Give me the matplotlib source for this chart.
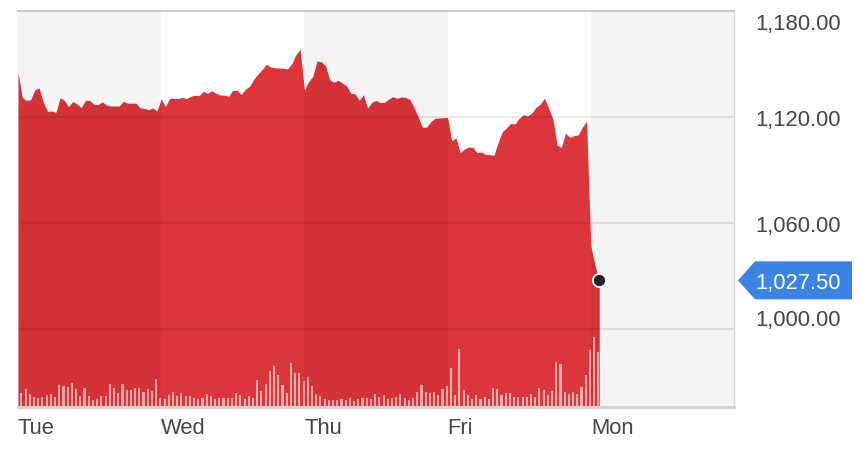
import matplotlib
matplotlib.use('Agg')
import matplotlib.pyplot as plt
import matplotlib.transforms as mtransforms
from matplotlib.patches import Polygon
import numpy as np

plt.rcParams['font.family'] = ['Liberation Sans', 'DejaVu Sans']

# ---------------- data ----------------
days = ['Tue', 'Wed', 'Thu', 'Fri', 'Mon']
steps_per_day = 34

price = [
    1145.3, 1131.1, 1129.4, 1129.8, 1135.4, 1136.4, 1128.3, 1123.2, 1123.4, 1122.6,
    1130.9, 1129.4, 1125.8, 1128.7, 1127.4, 1125.3, 1129.4, 1129.4, 1127.2, 1127.0,
    1128.5, 1126.8, 1126.2, 1126.2, 1126.2, 1128.9, 1127.8, 1127.8, 1127.8, 1125.1,
    1124.9, 1124.1, 1125.1, 1123.4, 1130.3, 1125.8, 1130.6, 1130.6, 1130.4, 1131.1,
    1130.4, 1131.7, 1132.3, 1132.1, 1134.5, 1133.4, 1134.9, 1133.4, 1132.4, 1132.4,
    1131.7, 1135.1, 1135.1, 1132.8, 1135.7, 1137.4, 1141.5, 1144.3, 1147.0, 1149.8,
    1148.3, 1147.9, 1147.7, 1147.6, 1147.2, 1150.2, 1155.3, 1158.3, 1135.3, 1140.0,
    1143.0, 1151.7, 1151.3, 1149.0, 1141.1, 1139.6, 1140.8, 1139.2, 1137.7, 1133.4,
    1133.2, 1129.4, 1132.6, 1124.9, 1128.3, 1129.4, 1128.1, 1128.3, 1130.2, 1131.5,
    1130.6, 1131.3, 1131.1, 1130.0, 1125.5, 1120.2, 1114.2, 1114.2, 1117.3, 1119.3,
    1119.4, 1119.6, 1119.7, 1106.6, 1108.1, 1099.8, 1101.9, 1103.0, 1102.8, 1099.8,
    1100.2, 1098.7, 1098.7, 1098.3, 1105.7, 1111.7, 1113.9, 1116.4, 1116.0, 1119.3,
    1121.3, 1120.6, 1122.3, 1125.5, 1127.2, 1130.7, 1124.9, 1118.9, 1104.1, 1102.8,
    1110.8, 1108.5, 1109.4, 1109.8, 1114.2, 1117.6, 1047.1, 1036.0, 1027.5,
]

volume = [
    43, 55, 39, 31, 27, 31, 37, 40, 31, 67, 62, 59, 72, 54, 34, 57, 33, 22, 25, 33,
    34, 70, 58, 43, 68, 52, 51, 56, 57, 44, 55, 49, 85,
    27, 24, 37, 46, 32, 42, 34, 32, 27, 23, 28, 40, 34, 25, 27, 27, 27, 27, 42, 37,
    25, 33, 28, 82, 48, 70, 109, 124, 96, 66, 43, 133, 103, 103, 78, 90,
    62, 38, 33, 23, 20, 20, 21, 25, 20, 28, 17, 23, 26, 26, 24, 40, 29, 36, 25, 26,
    31, 39, 28, 20, 26, 44, 67, 44, 41, 44, 36, 55, 63, 116, 37, 175, 52, 35, 25, 37,
    23, 31, 25, 56, 53, 35, 41, 43, 31, 30, 29, 29, 38, 29, 58, 51, 37, 47, 134, 130,
    44, 39, 45, 38, 59, 95, 170, 209, 166,
]
volume_scale = 1188  # volume value that would fill the whole plot height

yticks = [1000, 1060, 1120, 1180]
ytick_labels = ['1,000.00', '1,060.00', '1,120.00', '1,180.00']
last_label = '1,027.50'

# ---------------- layout ----------------
W, H = 866, 460
DPI = 100
fig = plt.figure(figsize=(W / DPI, H / DPI), dpi=DPI)
L, R, T, B = 18, 734, 12, 408
ax = fig.add_axes([L / W, (H - B) / H, (R - L) / W, (B - T) / H])

text_color = '#41474f'
red = '#dd363a'
FS = 15.8

x = np.arange(len(price))
ymin, ymax = 955.8, 1180
ax.set_xlim(0, steps_per_day * len(days))
ax.set_ylim(ymin, ymax)

ax.fill_between(x, price, ymin - 50, color=red, lw=0, zorder=2)

# volume bars (x in data, y in axes fraction)
vx = np.arange(1, len(volume) + 1) - 0.2
ax.bar(vx, np.array(volume) / volume_scale, width=0.5, bottom=0,
       color='white', alpha=0.6, lw=0, zorder=2.5,
       transform=ax.get_xaxis_transform())

# horizontal grid lines
for t in yticks[:-1]:
    ax.axhline(t, color='black', alpha=0.085, lw=1.5, zorder=3)

# alternate day shading
for d in range(0, len(days), 2):
    ax.axvspan(d * steps_per_day, (d + 1) * steps_per_day,
               color='black', alpha=0.045, lw=0, zorder=4)

# spines
ax.spines['left'].set_visible(False)
ax.spines['top'].set_color('#c8c8d0')
ax.spines['top'].set_linewidth(1.4)
ax.spines['bottom'].set_color('#d2d2da')
ax.spines['bottom'].set_linewidth(2.2)
ax.spines['right'].set_color('#dadade')
ax.spines['right'].set_linewidth(1.0)
for s in ax.spines.values():
    s.set_zorder(5)

# x ticks: day names, left-aligned at start of each day
ax.set_xticks([d * steps_per_day for d in range(len(days))])
ax.set_xticklabels(days, ha='left')
ax.tick_params(axis='x', length=0, pad=7, labelsize=FS, labelcolor=text_color)
ax.set_yticks([])

# y labels on the right (manual to allow nudging of edge labels)
label_nudge_px = {1180: -10.5, 1000: 12.0}
for t, lab in zip(yticks, ytick_labels):
    dy = label_nudge_px.get(t, 0.0)
    tr = ax.get_yaxis_transform() + mtransforms.ScaledTranslation(
        107 / DPI, dy / DPI, fig.dpi_scale_trans)
    ax.text(1, t, lab, transform=tr, ha='right', va='center_baseline',
            fontsize=FS, color=text_color, clip_on=False)

# last price marker
ax.plot(x[-1], price[-1], 'o', ms=9.5, mfc='#222427', mec='white', mew=1.3,
        zorder=7, clip_on=False)

# last price tag
anchor = fig.dpi_scale_trans + mtransforms.ScaledTranslation(
    1, price[-1], ax.get_yaxis_transform())
hh = 19 / DPI
tag = Polygon([(4 / DPI, 0), (21 / DPI, hh), (118 / DPI, hh),
               (118 / DPI, -hh), (21 / DPI, -hh)], closed=True,
              facecolor='#3b84e6', edgecolor='none', transform=anchor,
              clip_on=False, zorder=8)
ax.add_patch(tag)
ax.text(107 / DPI, 0, last_label, transform=anchor, ha='right',
        va='center_baseline', fontsize=FS, color='white', zorder=9, clip_on=False)

fig.savefig('out.png', dpi=DPI)
